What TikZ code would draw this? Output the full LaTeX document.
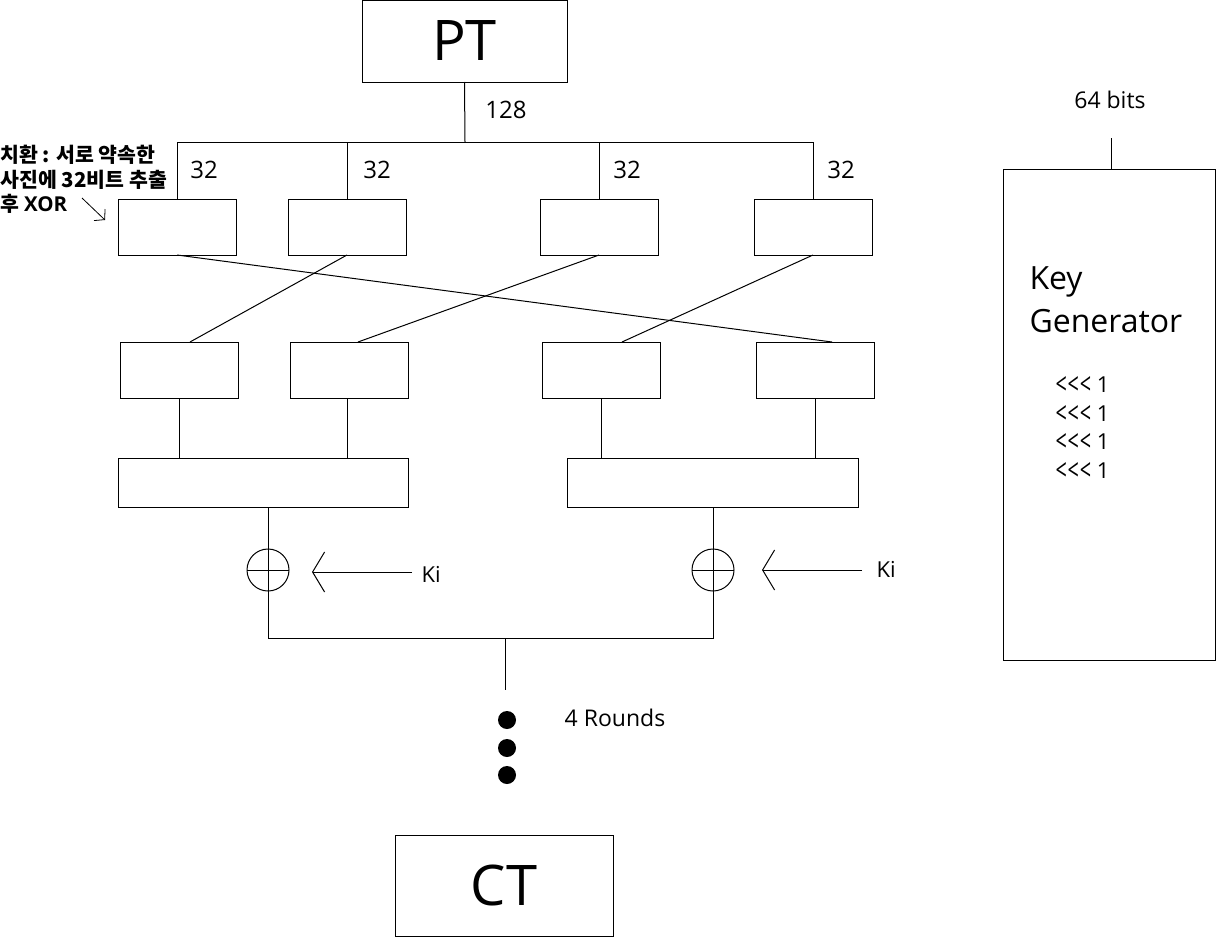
\documentclass[tikz,border=0pt]{standalone}
\usepackage{graphicx}
\usepackage{fontspec}
\setmainfont{Open Sans}
\newfontfamily\kr{Noto Sans CJK KR}
\usetikzlibrary{arrows.meta}
\newcommand\chevs{\raisebox{-2.6pt}{\scalebox{0.9}[1.35]{<\kern1pt<\kern1pt<}}}
\begin{document}
\begin{tikzpicture}[x=1pt,y=-1pt,line width=1pt,
  box/.style={draw,anchor=north west,inner sep=0pt,outer sep=0pt},
  big/.style={font=\fontsize{56}{60}\selectfont},
  num/.style={font=\fontsize{24}{28}\selectfont,inner sep=0pt},
  small/.style={font=\fontsize{23}{27}\selectfont,inner sep=0pt},
  rot/.style={font=\fontsize{22}{26}\selectfont,inner sep=0pt,anchor=base west},
  xorc/.style={draw,circle,minimum size=42pt,inner sep=0pt,outer sep=0pt},
  dotn/.style={circle,fill,minimum size=18pt,inner sep=0pt},
  kiarrow/.style={-{Straight Barb[length=12pt,width=40pt,line width=1pt]}},
  notearrow/.style={-{Straight Barb[length=7pt,width=16pt]},line width=0.8pt}]
\useasboundingbox (0,0) rectangle (1216,937);

% PT and CT
\node[box,big,minimum width=205pt,minimum height=82pt] (pt) at (362,0) {PT};
\node[box,big,minimum width=218pt,minimum height=101pt] (ct) at (395,835) {CT};

% row 1
\node[box,minimum width=118pt,minimum height=56pt] (a1) at (118,199) {};
\node[box,minimum width=118pt,minimum height=56pt] (a2) at (288,199) {};
\node[box,minimum width=118pt,minimum height=56pt] (a3) at (540,199) {};
\node[box,minimum width=118pt,minimum height=56pt] (a4) at (754,199) {};
% row 2
\node[box,minimum width=118pt,minimum height=56pt] (b1) at (120,342) {};
\node[box,minimum width=118pt,minimum height=56pt] (b2) at (290,342) {};
\node[box,minimum width=118pt,minimum height=56pt] (b3) at (542,342) {};
\node[box,minimum width=118pt,minimum height=56pt] (b4) at (756,342) {};
% row 3
\node[box,minimum width=290pt,minimum height=49pt] (c1) at (118,458) {};
\node[box,minimum width=291pt,minimum height=49pt] (c2) at (567,458) {};

% bus from PT
\coordinate (bus) at (465,142);
\draw (pt.south) -- (bus);
\draw (a1.north) -- (a1.north |- bus) -- (a4.north |- bus) -- (a4.north);
\draw (a2.north) -- (a2.north |- bus);
\draw (a3.north) -- (a3.north |- bus);
\node[num] (n128) at (506,110) {128};
\node[num] (l1) at (204,170) {32};
\node[num] (l2) at (377,170) {32};
\node[num] (l3) at (627,170) {32};
\node[num] (l4) at (841,170) {32};

% crossings
\draw (a1.south) -- ([xshift=17pt]b4.north);
\draw (a2.south) -- ([xshift=11pt]b1.north);
\draw (a3.south) -- ([xshift=9pt]b2.north);
\draw (a4.south) -- ([xshift=21pt]b3.north);

% row 2 to row 3
\draw (b1.south) -- (b1.south |- c1.north);
\draw ([xshift=-2pt]b2.south) -- ([xshift=-2pt]b2.south |- c1.north);
\draw (b3.south) -- (b3.south |- c2.north);
\draw (b4.south) -- (b4.south |- c2.north);

% XOR
\node[xorc] (x1) at (268,570) {};
\node[xorc] (x2) at (713,570) {};
\draw (x1.north |- c1.south) -- (x1.north);
\draw (x2.north |- c2.south) -- (x2.north);
\draw (x1.north) -- (x1.south) (x1.west) -- (x1.east);
\draw (x2.north) -- (x2.south) (x2.west) -- (x2.east);

% Ki arrows
\node[font=\fontsize{22}{26}\selectfont,inner sep=0pt,anchor=west] (k1) at (421,574) {Ki};
\node[font=\fontsize{22}{26}\selectfont,inner sep=0pt,anchor=west] (k2) at (876,569) {Ki};
\coordinate (t1) at (312,572);
\coordinate (t2) at (762,570);
\draw[kiarrow] ([xshift=-9pt]k1.west |- t1) -- (t1);
\draw[kiarrow] ([xshift=-14pt]k2.west |- t2) -- (t2);

% merge
\coordinate (m) at (505,638);
\coordinate (mend) at (505,690);
\draw (x1.south) -- (x1.south |- m) -- (x2.south |- m) -- (x2.south);
\draw (m) -- (mend);

% dots
\node[dotn] (d1) at (507,720) {};
\node[dotn] (d2) at (507,748) {};
\node[dotn] (d3) at (507,775) {};
\node[small] (rounds) at (615,718) {4 Rounds};

% key generator
\node[box,minimum width=212pt,minimum height=491pt] (kg) at (1003,169) {};
\node[small] (bits) at (1110,100) {64 bits};
\coordinate (kt) at (1111,138);
\draw (kt) -- (kt |- kg.north);
\node[font=\fontsize{32}{36}\selectfont,inner sep=0pt,anchor=base west] (kg1) at (1029,289) {Key};
\node[font=\fontsize{32}{36}\selectfont,inner sep=0pt,anchor=base west] (kg2) at (1029,332) {Generator};
\node[rot] (r1) at (1055,392) {\chevs\ 1};
\node[rot] (r2) at (1055,421) {\chevs\ 1};
\node[rot] (r3) at (1055,449) {\chevs\ 1};
\node[rot] (r4) at (1055,478) {\chevs\ 1};

% note
\node[anchor=north west,align=left,inner sep=0pt,font=\kr\bfseries\fontsize{20.5}{24.5}\selectfont] (note) at (0,145) {치환 : 서로 약속한\\사진에 32비트 추출\\후 {\rmfamily\bfseries XOR}};
\coordinate (na0) at (82,198);
\coordinate (na1) at (105,220);
\draw[notearrow] (na0) -- (na1);
\end{tikzpicture}
\end{document}
